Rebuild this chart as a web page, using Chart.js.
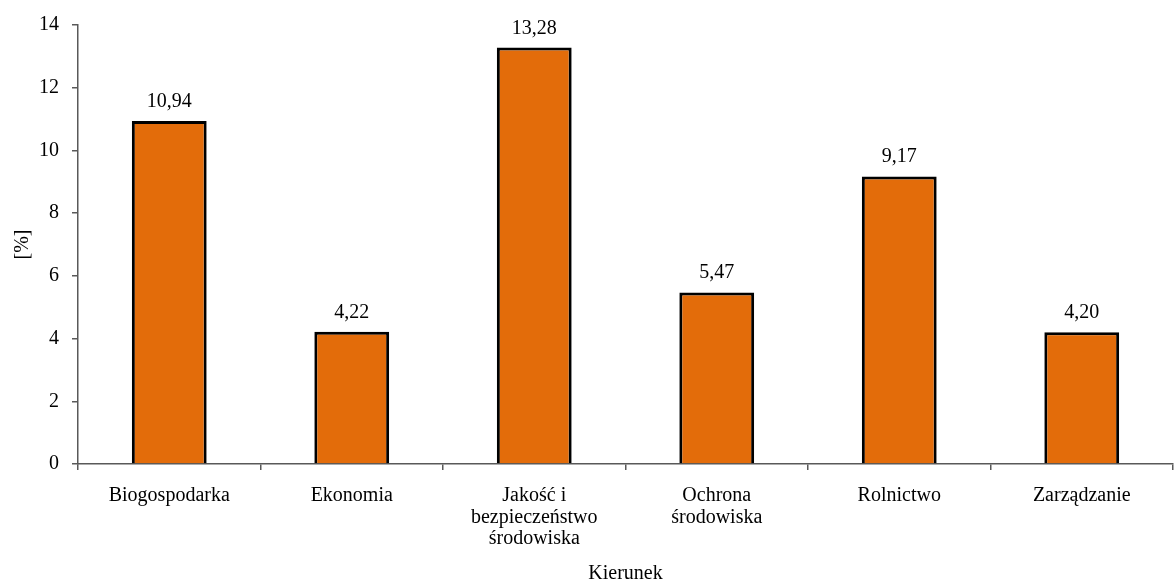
<!DOCTYPE html>
<html><head><meta charset="utf-8">
<script src="https://cdn.jsdelivr.net/npm/chart.js@4"></script>
<style>html,body{margin:0;padding:0;background:#fff}#wrap{width:1174px;height:585px}</style>
</head><body><div id="wrap"><canvas id="c" width="1174" height="585"></canvas></div>
<script>
const categories = ["Biogospodarka", "Ekonomia", ["Jakość i", "bezpieczeństwo", "środowiska"], ["Ochrona", "środowiska"], "Rolnictwo", "Zarządzanie"];
const values = [10.94, 4.22, 13.28, 5.47, 9.17, 4.20];
const yTicks = [0, 2, 4, 6, 8, 10, 12, 14];
const xTitle = "Kierunek";
const yTitle = "[%]";

const FONT = {family: "'Liberation Serif', 'Times New Roman', serif", size: 20};
const AXIS = "#595959";

const labelPlugin = {
  id: 'vlabels',
  afterDatasetsDraw(chart) {
    const ctx = chart.ctx;
    const meta = chart.getDatasetMeta(0);
    ctx.save();
    ctx.font = "20px " + FONT.family;
    ctx.fillStyle = "#000";
    ctx.textAlign = "center";
    ctx.textBaseline = "alphabetic";
    meta.data.forEach((bar, i) => {
      ctx.fillText(values[i].toFixed(2).replace('.', ','), bar.x, bar.y - 14);
    });
    ctx.restore();
  }
};

new Chart(document.getElementById('c'), {
  type: 'bar',
  data: {
    labels: categories,
    datasets: [{
      data: values,
      backgroundColor: '#E36C0A',
      borderColor: '#000',
      borderWidth: 3,
      categoryPercentage: 1,
      barPercentage: 0.41
    }]
  },
  options: {
    responsive: false,
    animation: false,
    layout: {padding: {left: 0, right: 1, top: 25, bottom: 0}},
    plugins: {legend: {display: false}, tooltip: {enabled: false}},
    scales: {
      x: {
        offset: true,
        grid: {offset: true, drawOnChartArea: false, drawTicks: true, tickLength: 6, color: AXIS, lineWidth: 1.5},
        border: {color: AXIS, width: 1.5},
        ticks: {font: {...FONT, lineHeight: 1.08}, color: '#000', padding: 15, maxRotation: 0, autoSkip: false},
        title: {display: true, text: xTitle, font: {...FONT, lineHeight: 1.1}, color: '#000', padding: {top: 0, bottom: 0}},
        afterFit: s => { s.height = 585 - 464; }
      },
      y: {
        min: 0, max: 14,
        afterBuildTicks: s => { s.ticks = yTicks.map(v => ({value: v})); },
        grid: {drawOnChartArea: false, drawTicks: true, tickLength: 6, color: AXIS, lineWidth: 1.5},
        border: {color: AXIS, width: 1.5},
        ticks: {font: FONT, color: '#000', padding: 13},
        title: {display: true, text: yTitle, font: {...FONT, lineHeight: 1.2}, color: '#000', padding: {top: 11, bottom: 0}},
        afterFit: s => { s.width = 78; }
      }
    }
  },
  plugins: [labelPlugin]
});
</script>
</body></html>
